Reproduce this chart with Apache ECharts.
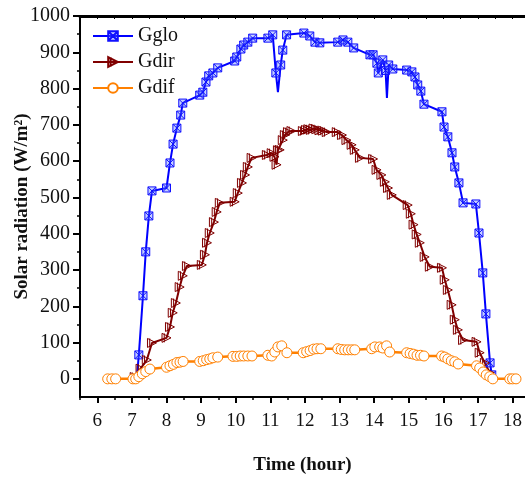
<!DOCTYPE html>
<html>
<head>
<meta charset="utf-8">
<script src="https://cdn.jsdelivr.net/npm/echarts@6/dist/echarts.min.js"></script>
<style>html,body{margin:0;padding:0;background:#fff;}#c{width:525px;height:477px;}</style>
</head>
<body>
<div id="c"></div>
<script>
// ---- data (hour, W/m^2) ----
var glo_t = [7.14,7.2,7.32,7.4,7.49,7.58,8.0,8.1,8.19,8.3,8.41,8.47,8.96,9.05,9.14,9.22,9.34,9.48,9.97,10.03,10.15,10.23,10.35,10.49,10.93,11.07,11.16,11.22,11.3,11.36,11.47,11.97,12.14,12.29,12.43,12.95,13.1,13.24,13.41,13.88,13.97,14.08,14.12,14.25,14.33,14.37,14.42,14.54,14.94,15.09,15.18,15.26,15.35,15.44,15.96,16.02,16.13,16.25,16.33,16.45,16.57,16.94,17.03,17.14,17.23,17.35,17.4];
var glo_v = [0,66,229,350,449,518,526,595,647,691,727,760,782,790,818,835,843,857,876,887,909,920,928,939,939,948,843,790,865,906,948,953,945,928,926,928,934,928,912,893,893,870,843,879,850,774,865,854,851,846,832,810,793,757,736,694,667,623,584,540,485,482,402,292,179,44,11];

var dir_t = [7.08,7.25,7.43,7.58,8.0,8.1,8.18,8.27,8.38,8.47,8.59,9.02,9.11,9.17,9.25,9.37,9.45,9.54,9.97,10.06,10.18,10.27,10.35,10.46,10.9,11.04,11.12,11.18,11.22,11.27,11.36,11.42,11.51,11.61,11.94,12.03,12.1,12.17,12.25,12.33,12.42,12.52,12.63,12.92,13.07,13.2,13.35,13.44,13.59,13.97,14.07,14.21,14.31,14.4,14.51,14.97,15.06,15.14,15.23,15.32,15.46,15.61,15.96,16.04,16.13,16.24,16.33,16.42,16.57,16.96,17.05,17.2,17.34];
var dir_v = [5,28,52,99,113,143,182,209,253,284,311,314,342,375,402,432,460,485,488,512,540,562,584,609,617,622,612,590,630,631,658,672,680,683,683,686,688,686,690,688,685,684,680,680,672,658,645,631,609,606,576,562,543,526,507,479,455,425,398,375,336,309,306,273,245,204,163,135,107,102,72,44,17];

var dif_t = [6.3,6.42,6.53,7.03,7.11,7.2,7.3,7.4,7.52,8.0,8.1,8.2,8.3,8.39,8.48,8.96,9.06,9.16,9.25,9.34,9.48,9.92,10.03,10.13,10.23,10.35,10.47,10.93,11.04,11.13,11.22,11.33,11.48,11.95,12.05,12.15,12.25,12.35,12.46,12.95,13.05,13.15,13.25,13.35,13.44,13.93,14.02,14.16,14.25,14.36,14.45,14.94,15.04,15.14,15.24,15.34,15.44,15.95,16.04,16.13,16.23,16.33,16.43,16.96,17.05,17.15,17.24,17.34,17.43,17.92,18.0,18.1];
var dif_v = [0,0,0,0,0,6,14,20,27,32,36,40,45,46,48,48,50,53,55,58,60,62,62,63,63,63,63,65,63,74,88,91,72,72,75,78,82,83,83,83,81,80,80,80,80,83,88,88,85,91,74,72,70,68,65,65,63,63,60,55,50,47,41,36,30,19,11,6,0,0,0,0];

var xTicks = [6,7,8,9,10,11,12,13,14,15,16,17,18];
var yTicks = [0,100,200,300,400,500,600,700,800,900,1000];
var seriesNames = ['Gglo','Gdir','Gdif'];

function zip(t, v){ return t.map(function(x,i){ return [x, v[i]]; }); }
var xMinor = xTicks.map(function(x){return x+0.5;}).filter(function(x){return x<18.36;});
xMinor.unshift(5.5);
var yMinor = yTicks.slice(0,-1).map(function(y){return y+50;});
var xAll = xTicks.concat(xMinor);

// Gglo: the first point and the two dip tips are drawn without a marker
var gloNoMark = {0:1, 27:1, 45:1};

var FONT = "'Liberation Serif','Times New Roman',serif";
var chart = echarts.init(document.getElementById('c'), null, {renderer:'canvas'});
var base = {min:5.5, max:18.36, type:'value', splitLine:{show:false}};
chart.setOption({
  animation:false,
  backgroundColor:'#fff',
  textStyle:{fontFamily:FONT},
  grid:{left:80, right:0, top:16, bottom:80, containLabel:false, outerBoundsMode:'none'},
  legend:{
    left:87, top:21, orient:'vertical', itemWidth:40, itemHeight:12, itemGap:6,
    textStyle:{fontFamily:FONT, fontSize:20, color:'#111'},
    data:seriesNames
  },
  xAxis:[
    Object.assign({}, base, {
      position:'bottom',
      axisLine:{show:true, onZero:false, lineStyle:{color:'#000', width:2}},
      axisTick:{show:true, length:6, lineStyle:{color:'#000', width:2}, customValues:xTicks},
      axisLabel:{customValues:xTicks, fontFamily:FONT, fontSize:19, color:'#111', margin:15,
        formatter:function(v){return String(v);}},
      name:'Time (hour)', nameLocation:'middle', nameGap:59, nameMoveOverlap:false,
      nameTextStyle:{fontFamily:FONT, fontSize:19, fontWeight:'bold', color:'#111'}
    }),
    Object.assign({}, base, {
      position:'bottom',
      axisLine:{show:false, onZero:false},
      axisTick:{show:true, length:3, lineStyle:{color:'#000', width:1.5}, customValues:xMinor},
      axisLabel:{show:false}
    }),
    Object.assign({}, base, {
      position:'top',
      axisLine:{show:true, onZero:false, lineStyle:{color:'#000', width:3}},
      axisTick:{show:true, inside:true, length:3, lineStyle:{color:'#000', width:1}, customValues:xAll},
      axisLabel:{show:false}
    })
  ],
  yAxis:[
    {
      type:'value', min:-50, max:1000, position:'left', splitLine:{show:false},
      axisLine:{show:true, onZero:false, lineStyle:{color:'#000', width:2}},
      axisTick:{show:true, length:7, lineStyle:{color:'#000', width:2}, customValues:yTicks},
      axisLabel:{customValues:yTicks, fontFamily:FONT, fontSize:20, color:'#111', margin:10,
        formatter:function(v){return String(v);}},
      name:'Solar radiation (W/m²)', nameLocation:'middle', nameGap:48, nameRotate:90, nameMoveOverlap:false,
      nameTextStyle:{fontFamily:FONT, fontSize:19, fontWeight:'bold', color:'#111'}
    },
    {
      type:'value', min:-50, max:1000, position:'left', splitLine:{show:false},
      axisLine:{show:false, onZero:false},
      axisTick:{show:true, length:3, lineStyle:{color:'#000', width:1.5}, customValues:yMinor},
      axisLabel:{show:false}
    }
  ],
  series:[
    {
      name:'Gglo', type:'line', data:zip(glo_t, glo_v), xAxisIndex:0, yAxisIndex:0,
      symbol:'path://M0 0H10V10H0ZM0 0L10 10M10 0L0 10',
      symbolSize:function(v, p){ return gloNoMark[p.dataIndex] ? 0 : 8; }, showAllSymbol:true,
      lineStyle:{color:'#0000ff', width:2},
      itemStyle:{color:'rgba(90,120,255,0.35)', borderColor:'#1010ff', borderWidth:1}
    },
    {
      name:'Gdir', type:'line', data:zip(dir_t, dir_v), xAxisIndex:0, yAxisIndex:0,
      symbol:'path://M0 0L10 5L0 10ZM2.5 0V10', symbolSize:9, showAllSymbol:true,
      lineStyle:{color:'#800000', width:2},
      itemStyle:{color:'rgba(128,0,0,0.04)', borderColor:'#800000', borderWidth:1}
    },
    {
      name:'Gdif', type:'line', data:zip(dif_t, dif_v), xAxisIndex:0, yAxisIndex:0,
      symbol:'circle', symbolSize:10, showAllSymbol:true,
      lineStyle:{color:'#ff8000', width:2.5},
      itemStyle:{color:'#ffffff', borderColor:'#ff8000', borderWidth:1}
    }
  ]
});
</script>
</body>
</html>
